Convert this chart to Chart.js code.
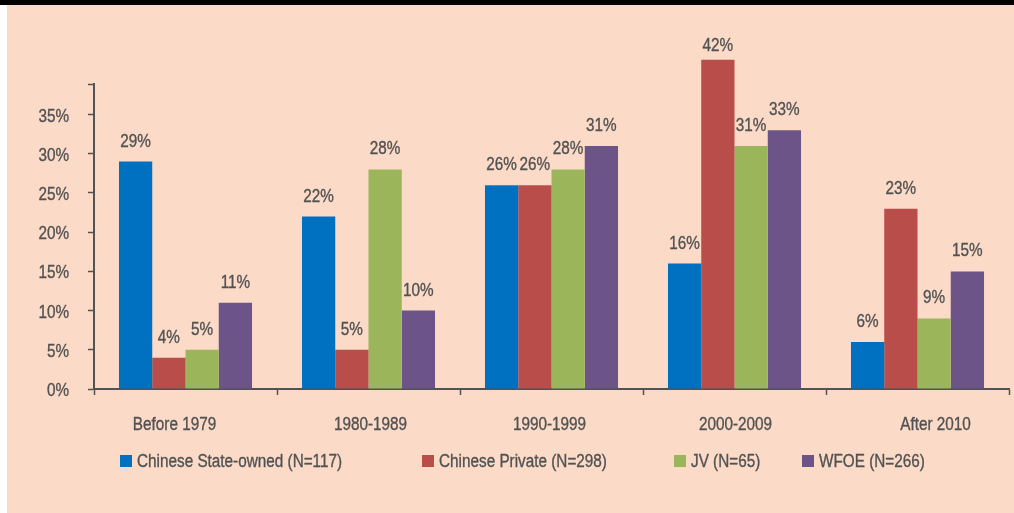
<!DOCTYPE html>
<html>
<head>
<meta charset="utf-8">
<script src="https://cdn.jsdelivr.net/npm/chart.js@4.4.1/dist/chart.umd.min.js"></script>
<style>
  html, body { margin: 0; padding: 0; background: #fff; }
  #wrap { width: 1014px; height: 513px; }
</style>
</head>
<body>
<div id="wrap"><canvas id="periodChart" width="1014" height="513"></canvas></div>
<script>
// Data
const categories = ["Before 1979", "1980-1989", "1990-1999", "2000-2009", "After 2010"];
const seriesNames = ["Chinese State-owned (N=117)", "Chinese Private (N=298)", "JV (N=65)", "WFOE (N=266)"];
const stateOwned = [0.29, 0.22, 0.26, 0.16, 0.06];
const privateCo = [0.04, 0.05, 0.26, 0.42, 0.23];
const jointVenture = [0.05, 0.28, 0.28, 0.31, 0.09];
const wfoe = [0.11, 0.10, 0.31, 0.33, 0.15];
const yTicks = [0, 0.05, 0.10, 0.15, 0.20, 0.25, 0.30, 0.35, 0.389];
const yTickLabels = ["0%", "5%", "10%", "15%", "20%", "25%", "30%", "35%", ""];

const colors = ["#0070C0", "#B84D4A", "#9BB55A", "#6C5489"];
const legendX = [120, 422, 674, 802];
const labelNudge = [-11, 2, -2, 1, 18]; // category labels are not quite centred in the original
const textColor = "#525252";
const FONT = "18px 'Liberation Sans', Arial, sans-serif";
const NARROW = 0.85; // squeeze to look like a condensed face

// draw text squeezed horizontally, with a hairline stroke for weight
function narrowText(ctx, text, x, y, align) {
    ctx.save();
    ctx.translate(x, y);
    ctx.scale(NARROW, 1);
    ctx.textAlign = align;
    ctx.textBaseline = 'alphabetic';
    ctx.fillText(text, 0, 0);
    ctx.lineWidth = 0.35;
    ctx.strokeStyle = textColor;
    ctx.strokeText(text, 0, 0);
    ctx.restore();
}

// Page background: white strip, peach panel, black rule at top
const backdrop = {
    id: 'backdrop',
    beforeDraw(chart) {
        const ctx = chart.ctx;
        ctx.save();
        ctx.fillStyle = '#ffffff';
        ctx.fillRect(0, 0, chart.width, chart.height);
        ctx.fillStyle = '#FBDBC8';
        ctx.fillRect(7, 5, chart.width - 7, chart.height - 5);
        ctx.fillStyle = '#000000';
        ctx.fillRect(0, 0, chart.width, 5);
        ctx.restore();
    }
};

// Axis labels, percent labels above bars and the legend row
const textLayer = {
    id: 'textLayer',
    afterDraw(chart) {
        const ctx = chart.ctx;
        const xs = chart.scales.x, ys = chart.scales.y;
        ctx.save();
        ctx.font = FONT;
        ctx.fillStyle = textColor;

        ys.ticks.forEach((t, i) => {
            if (!yTickLabels[i]) return;
            narrowText(ctx, yTickLabels[i], 69, ys.getPixelForValue(t.value) + 7, 'right');
        });

        categories.forEach((c, i) => {
            narrowText(ctx, c, xs.getPixelForValue(i) + labelNudge[i], 430, 'center');
        });

        chart.data.datasets.forEach((ds, i) => {
            chart.getDatasetMeta(i).data.forEach((bar, j) => {
                const y = Math.max(bar.y - 15, 51);
                narrowText(ctx, Math.round(ds.data[j] * 100) + '%', bar.x, y, 'center');
            });
        });

        chart.data.datasets.forEach((ds, i) => {
            const x = legendX[i];
            ctx.fillStyle = ds.backgroundColor;
            ctx.fillRect(x, 455, 12, 12);
            ctx.fillStyle = textColor;
            narrowText(ctx, ds.label, x + 17, 467, 'left');
        });
        ctx.restore();
    }
};

const seriesData = [stateOwned, privateCo, jointVenture, wfoe];

new Chart(document.getElementById('periodChart').getContext('2d'), {
    type: 'bar',
    data: {
        labels: categories,
        datasets: seriesData.map((d, i) => ({
            label: seriesNames[i],
            data: d,
            backgroundColor: colors[i],
            borderWidth: 0,
            barPercentage: 1,
            categoryPercentage: 0.727,
            clip: false
        }))
    },
    options: {
        responsive: false,
        animation: false,
        devicePixelRatio: 1,
        layout: { padding: { top: 84, right: 5, left: 0, bottom: 0 } },
        plugins: {
            legend: { display: false },
            tooltip: { enabled: false }
        },
        scales: {
            x: {
                afterFit(scale) { scale.height = 124; },
                grid: {
                    offset: true,
                    drawOnChartArea: false,
                    drawTicks: true,
                    tickLength: 6,
                    tickWidth: 1.5,
                    tickColor: textColor
                },
                border: { display: true, color: textColor, width: 2 },
                ticks: { display: false }
            },
            y: {
                min: 0,
                max: 0.389,
                afterFit(scale) { scale.width = 94; },
                afterBuildTicks(scale) {
                    scale.ticks = yTicks.map(v => ({ value: v }));
                },
                grid: {
                    drawOnChartArea: false,
                    drawTicks: true,
                    tickLength: 6,
                    tickWidth: 1.5,
                    tickColor: textColor
                },
                border: { display: true, color: textColor, width: 2 },
                ticks: { display: false }
            }
        }
    },
    plugins: [backdrop, textLayer]
});
</script>
</body>
</html>
